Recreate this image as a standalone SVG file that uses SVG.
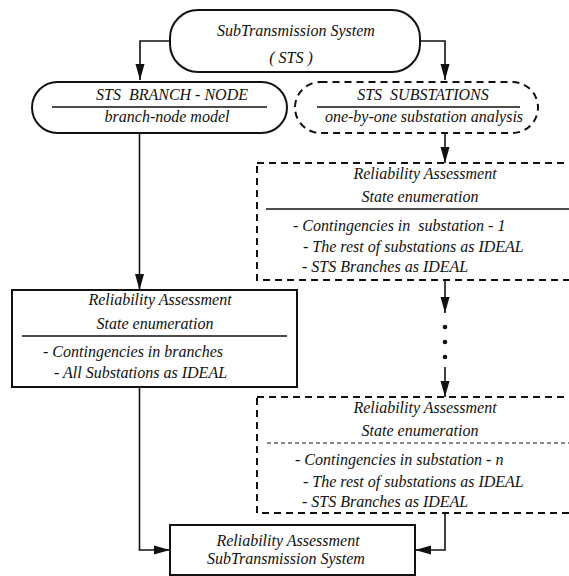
<svg xmlns="http://www.w3.org/2000/svg" width="569" height="576" viewBox="0 0 569 576">
<style>
text{font-family:"Liberation Serif","Times New Roman",serif;font-style:italic;font-size:16px;fill:#111}
.m{text-anchor:middle}
.box{fill:#fff;stroke:#111;stroke-width:2}
.dash{fill:#fff;stroke:#111;stroke-width:2;stroke-dasharray:7 5}
.sep{stroke:#111;stroke-width:1.5}
.sepd{stroke:#111;stroke-width:1;stroke-dasharray:4 3}
.con{fill:none;stroke:#111;stroke-width:1.6}
</style>
<defs>
<marker id="ah2" markerWidth="16" markerHeight="10" viewBox="0 0 16 10" refX="16" refY="5" orient="auto" markerUnits="userSpaceOnUse">
<path d="M0,0.5 L16,5 L0,9.5 Z" fill="#111"/>
</marker>
</defs>
<g id="connectors">
<path class="con" d="M170,41 H140 V80" marker-end="url(#ah2)"/>
<path class="con" d="M420,41 H445 V80" marker-end="url(#ah2)"/>
<path class="con" d="M139.5,133 V290" marker-end="url(#ah2)"/>
<path class="con" d="M445,133 V163" marker-end="url(#ah2)"/>
<path class="con" d="M445,280 V313" marker-end="url(#ah2)"/>
<circle cx="445" cy="327" r="2.3" fill="#111"/>
<circle cx="445" cy="342" r="2.3" fill="#111"/>
<circle cx="445" cy="357" r="2.3" fill="#111"/>
<path class="con" d="M445,367 V397" marker-end="url(#ah2)"/>
<path class="con" d="M139.5,387 V550 H170" marker-end="url(#ah2)"/>
<path class="con" d="M445,513 V550 H415" marker-end="url(#ah2)"/>
</g>
<g id="sts">
<rect class="box" x="170" y="10" width="250" height="62" rx="28" ry="28"/>
<text class="m" x="296" y="36">SubTransmission System</text>
<text class="m" x="291" y="63">( STS )</text>
</g>
<g id="branch-node">
<rect class="box" x="32" y="82" width="255" height="51" rx="25.5" ry="25.5"/>
<text class="m" x="172" y="100" xml:space="preserve">STS  BRANCH - NODE</text>
<line class="sep" x1="52" y1="107" x2="267" y2="107"/>
<text class="m" x="167" y="122">branch-node model</text>
</g>
<g id="substations">
<rect class="dash" x="295" y="82" width="243" height="51" rx="25.5" ry="25.5"/>
<text class="m" x="423" y="100" xml:space="preserve">STS  SUBSTATIONS</text>
<line class="sep" x1="317" y1="107" x2="520" y2="107"/>
<text class="m" x="424" y="122">one-by-one substation analysis</text>
</g>
<g id="ra-substation-1">
<rect class="dash" x="257" y="163" width="500" height="117"/>
<text class="m" x="425" y="179">Reliability Assessment</text>
<text class="m" x="420" y="202">State enumeration</text>
<line class="sep" x1="266" y1="209" x2="600" y2="209"/>
<text x="293" y="231" xml:space="preserve">- Contingencies in  substation - 1</text>
<text x="303" y="252">- The rest of substations as IDEAL</text>
<text x="302" y="272">- STS Branches as IDEAL</text>
</g>
<g id="ra-branches">
<rect class="box" x="12" y="290" width="285" height="97"/>
<text class="m" x="160" y="305">Reliability Assessment</text>
<text class="m" x="155" y="329">State enumeration</text>
<line class="sep" x1="22" y1="336" x2="287" y2="336"/>
<text x="43" y="357">- Contingencies in branches</text>
<text x="54" y="378">- All Substations as IDEAL</text>
</g>
<g id="ra-substation-n">
<rect class="dash" x="257" y="397" width="500" height="116"/>
<text class="m" x="425" y="413">Reliability Assessment</text>
<text class="m" x="420" y="436">State enumeration</text>
<line class="sepd" x1="267" y1="443" x2="600" y2="443"/>
<text x="295" y="465">- Contingencies in substation - n</text>
<text x="303" y="487">- The rest of substations as IDEAL</text>
<text x="302" y="507">- STS Branches as IDEAL</text>
</g>
<g id="ra-sts">
<rect class="box" x="170" y="525" width="245" height="50"/>
<text class="m" x="288" y="546">Reliability Assessment</text>
<text class="m" x="286" y="564">SubTransmission System</text>
</g>
</svg>
